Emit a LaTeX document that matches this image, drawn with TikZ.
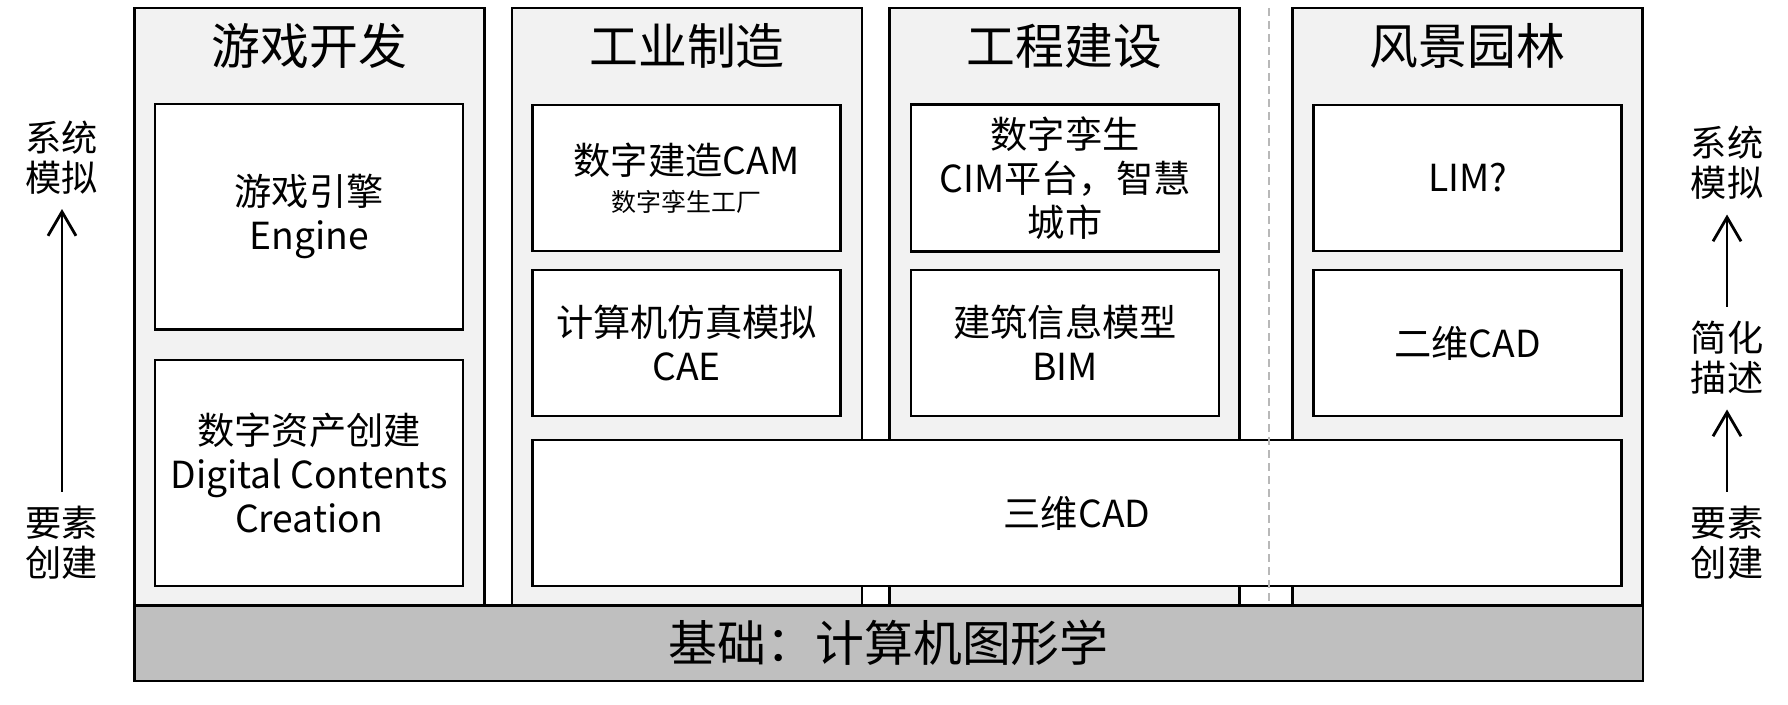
\documentclass[tikz,border=0pt]{standalone}
\usepackage{fontspec}
\setmainfont{Noto Sans CJK SC}
\usetikzlibrary{arrows.meta}

\begin{document}
\begin{tikzpicture}[
    area/.style={draw, rectangle, line width=0.7pt, fill=black!5, minimum width=3.5cm, minimum height=5.975cm},
    item/.style={draw, rectangle, line width=0.7pt, fill=white, minimum width=3.08cm, minimum height=1.46cm, align=center, font=\fontsize{10.6}{12.6}\selectfont},
    coltitle/.style={font=\fontsize{13.9}{16}\selectfont},
    sidetext/.style={align=center, font=\fontsize{10.3}{11.4}\selectfont, inner sep=4pt},
    uparrow/.style={-{Straight Barb[length=0.24cm, width=0.28cm]}, line width=0.8pt}
]
    \useasboundingbox (0,0) rectangle (17.88,7.04);

    % Field columns
    \node[area] (game) at (3.096,3.9725) {};
    \node[area] (industry) at (6.87,3.9725) {};
    \node[area] (civil) at (10.645,3.9725) {};
    \node[area] (landscape) at (14.675,3.9725) {};

    % Foundation bar
    \node[draw, rectangle, line width=0.7pt, fill=black!25, minimum width=15.084cm, minimum height=0.753cm, font=\fontsize{13.9}{16}\selectfont] (base) at (8.888,0.6085) {基础：计算机图形学};

    % Column titles
    \node[coltitle] (gametitle) at (3.096,6.584) {游戏开发};
    \node[coltitle] (industrytitle) at (6.87,6.584) {工业制造};
    \node[coltitle] (civiltitle) at (10.645,6.584) {工程建设};
    \node[coltitle] (landscapetitle) at (14.675,6.584) {风景园林};

    % Game development
    \node[item, minimum height=2.257cm] (engine) at (3.09,4.8735) {游戏引擎\\Engine};
    \node[item, minimum height=2.26cm] (dcc) at (3.09,2.31) {数字资产创建\\Digital Contents\\Creation};

    % Industry
    \node[item] (cam) at (6.865,5.26) {数字建造CAM\\[-2pt]{\fontsize{7.1}{8.5}\selectfont 数字孪生工厂}};
    \node[item] (cae) at (6.865,3.61) {计算机仿真模拟\\CAE};

    % Civil engineering
    \node[item] (cim) at (10.65,5.26) {数字孪生\\CIM平台，智慧\\城市};
    \node[item] (bim) at (10.65,3.61) {建筑信息模型\\BIM};

    % Landscape
    \node[item] (lim) at (14.675,5.26) {LIM?};
    \node[item] (cad2d) at (14.675,3.61) {二维CAD};

    % Shared 3D CAD
    \node[item, minimum width=10.89cm] (cad3d) at (10.77,1.91) {三维CAD};

    % Divider
    \coordinate (divtop) at (12.69,6.96);
    \coordinate (divbot) at (12.69,0.985);
    \draw[black!28, line width=0.55pt, dash pattern=on 0.08cm off 0.05cm] (divtop) -- (divbot);

    % Left scale
    \node[sidetext] (ltop) at (0.62,5.465) {系统\\模拟};
    \node[sidetext] (lbot) at (0.62,1.61) {要素\\创建};
    \draw[uparrow] (lbot) -- (ltop);

    % Right scale
    \node[sidetext] (rtop) at (17.27,5.41) {系统\\模拟};
    \node[sidetext] (rmid) at (17.27,3.46) {简化\\描述};
    \node[sidetext] (rbot) at (17.27,1.61) {要素\\创建};
    \draw[uparrow] (rmid) -- (rtop);
    \draw[uparrow] (rbot) -- (rmid);

\end{tikzpicture}
\end{document}
